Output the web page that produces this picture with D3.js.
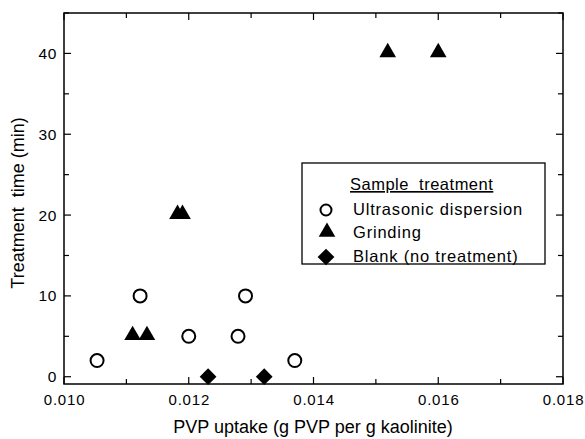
<!DOCTYPE html>
<html><head><meta charset="utf-8">
<script src="https://cdn.jsdelivr.net/npm/d3@7"></script>
<style>body{margin:0;background:#fff}svg{display:block;font-family:"Liberation Sans",Arial,sans-serif}</style>
</head><body><svg id="c" width="585" height="439"></svg>
<script>
const ultrasonicX = [0.01053, 0.01122, 0.0120, 0.01279, 0.01291, 0.0137];
const ultrasonicY = [2, 10, 5, 5, 10, 2];
const grindingX = [0.0111, 0.01133, 0.01182, 0.0119, 0.01519, 0.0160];
const grindingY = [5, 5, 20, 20, 40, 40];
const blankX = [0.01231, 0.01321];
const blankY = [0, 0];
const xTicks = [0.010, 0.012, 0.014, 0.016, 0.018];
const yTicks = [0, 10, 20, 30, 40];
const legendLabels = ["Ultrasonic dispersion", "Grinding", "Blank (no treatment)"];

const svg = d3.select("#c");
const L = 64, R = 563, T = 13, B = 384;
const x = d3.scaleLinear().domain([0.010, 0.018]).range([L, R]);
const y = d3.scaleLinear().domain([-0.9, 45]).range([B, T]);

const g = svg.append("g");
g.append("rect").attr("x", L).attr("y", T).attr("width", R - L).attr("height", B - T)
  .attr("fill", "none").attr("stroke", "#000").attr("stroke-width", 1.5);

const xMinor = d3.range(0.010, 0.0181, 0.001);
const yMinor = d3.range(0, 46, 5);
const xb = g.append("g").attr("transform", `translate(0,${B})`)
  .call(d3.axisBottom(x).tickValues(xTicks).tickFormat(d3.format(".3f")).tickSize(0).tickPadding(10));
xb.select(".domain").remove();
xb.selectAll("text").attr("font-size", 15).attr("letter-spacing", "0.8px")
  .attr("font-family", "Liberation Sans, Arial, sans-serif").attr("fill", "#000");
xMinor.forEach(v => {
  const major = Math.abs(Math.round(v * 1000) % 2) === 0;
  const len = major ? 7 : 5;
  g.append("line").attr("x1", x(v)).attr("x2", x(v)).attr("y1", B).attr("y2", B - len).attr("stroke", "#000").attr("stroke-width", 1.2);
  g.append("line").attr("x1", x(v)).attr("x2", x(v)).attr("y1", T).attr("y2", T + len).attr("stroke", "#000").attr("stroke-width", 1.2);
});
const yl = g.append("g").attr("transform", `translate(${L},0)`)
  .call(d3.axisLeft(y).tickValues(yTicks).tickSize(0).tickPadding(7));
yl.select(".domain").remove();
yl.selectAll("text").attr("font-size", 15.5).attr("letter-spacing", "0.6px")
  .attr("font-family", "Liberation Sans, Arial, sans-serif").attr("fill", "#000");
yMinor.forEach(v => {
  const major = v % 10 === 0;
  const len = major ? 7 : 5;
  g.append("line").attr("x1", L).attr("x2", L + len).attr("y1", y(v)).attr("y2", y(v)).attr("stroke", "#000").attr("stroke-width", 1.2);
  g.append("line").attr("x1", R).attr("x2", R - len).attr("y1", y(v)).attr("y2", y(v)).attr("stroke", "#000").attr("stroke-width", 1.2);
});

svg.append("text").attr("x", (L + R) / 2 - 0.5).attr("y", 433).attr("text-anchor", "middle")
  .attr("font-size", 18).text("PVP uptake (g PVP per g kaolinite)");
svg.append("text").attr("transform", `translate(24,203) rotate(-90)`).attr("text-anchor", "middle")
  .attr("font-size", 18).attr("xml:space", "preserve").text("Treatment  time (min)");

const tri = d3.symbol().type(d3.symbolTriangle).size(120);
const dia = d3.symbol().type(d3.symbolSquare).size(140);

g.selectAll(".u").data(ultrasonicX).join("circle")
  .attr("cx", d => x(d)).attr("cy", (d, i) => y(ultrasonicY[i])).attr("r", 6.5)
  .attr("fill", "#fff").attr("stroke", "#000").attr("stroke-width", 2);
g.selectAll(".g").data(grindingX).join("path")
  .attr("d", tri).attr("transform", (d, i) => `translate(${x(d)},${y(grindingY[i]) - 1})`).attr("fill", "#000");
g.selectAll(".b").data(blankX).join("path")
  .attr("d", dia).attr("transform", (d, i) => `translate(${x(d)},${y(blankY[i])}) rotate(45)`).attr("fill", "#000");

const lg = svg.append("g");
lg.append("rect").attr("x", 302).attr("y", 163).attr("width", 243).attr("height", 101)
  .attr("fill", "#fff").attr("stroke", "#000").attr("stroke-width", 1.3);
lg.append("text").attr("x", 350).attr("y", 190).attr("font-size", 16.5).attr("letter-spacing", "0.5px")
  .attr("text-decoration", "underline").attr("xml:space", "preserve").text("Sample  treatment");
const ly = [210, 233, 257];
const lx = 326;
lg.append("circle").attr("cx", lx).attr("cy", ly[0]).attr("r", 5.5).attr("fill", "#fff").attr("stroke", "#000").attr("stroke-width", 2);
lg.append("path").attr("d", tri).attr("transform", `translate(${lx + 1},${ly[1] - 1})`);
lg.append("path").attr("d", dia).attr("transform", `translate(${lx},${ly[2]}) rotate(45)`);
legendLabels.forEach((t, i) => {
  lg.append("text").attr("x", 353).attr("y", ly[i] + 5).attr("font-size", 16.5).attr("letter-spacing", "0.8px").text(t);
});
</script></body></html>
